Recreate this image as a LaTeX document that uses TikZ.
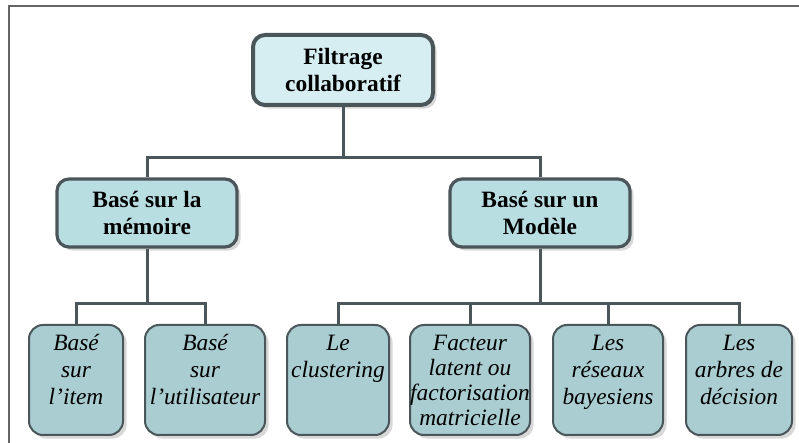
\documentclass[tikz,border=0pt]{standalone}
\usepackage{fontspec}
\setmainfont{Liberation Serif}
\usetikzlibrary{shadows}
\definecolor{topfill}{HTML}{D6EEF1}
\definecolor{midfill}{HTML}{B9DEE2}
\definecolor{leaffill}{HTML}{AACDD1}
\definecolor{edge}{HTML}{4A5659}
\tikzset{
    box/.style={draw=edge, rounded corners=6pt, align=center,
        drop shadow={shadow xshift=1.8pt, shadow yshift=-1.8pt, fill=black!30, opacity=0.5}},
    rootbox/.style={box, fill=topfill, line width=2pt, minimum width=90pt, minimum height=35pt,
        font=\fontsize{11.7}{13.5}\selectfont\bfseries},
    midbox/.style={box, fill=midfill, line width=1.6pt, minimum width=90pt, minimum height=34pt,
        font=\fontsize{11.7}{13.5}\selectfont\bfseries},
    leafbox/.style={box, fill=leaffill, line width=1pt, rounded corners=7pt, inner sep=0pt,
        anchor=north, font=\fontsize{11.7}{13.5}\selectfont\itshape},
    link/.style={draw=edge, line width=1.5pt}
}
% top-aligned text inside a leaf
\newcommand{\leaftext}[2]{\parbox[c][55pt][t]{#1}{\centering\vspace*{3.2pt}\strut #2}}
\begin{document}
\begin{tikzpicture}[x=0.5pt, y=-0.5pt]
    \useasboundingbox (0,0) rectangle (799,443);
    % frame
    \draw[gray!80!black, line width=0.8pt] (9,443) -- (9,6) -- (799,6);

    % levels
    \node[rootbox] (fc) at (343,70) {Filtrage\\collaboratif};
    \node[midbox] (mem) at (147,213) {Basé sur la\\mémoire};
    \node[midbox] (mod) at (540,213) {Basé sur un\\Modèle};

    \node[leafbox] (item) at (76,324) {\leaftext{47pt}{Basé\\sur\\l’item}};
    \node[leafbox] (user) at (205,324) {\leaftext{60pt}{Basé\\sur\\l’utilisateur}};
    \node[leafbox] (clus) at (338,324) {\leaftext{51pt}{Le\\clustering}};
    \node[leafbox] (fact) at (470,324) {\leaftext{60pt}{\fontsize{11.7}{12.6}\selectfont Facteur\\latent ou\\factorisation\\matricielle}};
    \node[leafbox] (bay) at (608,324) {\leaftext{55pt}{Les\\réseaux\\bayesiens}};
    \node[leafbox] (tree) at (739,324) {\leaftext{53pt}{Les\\arbres de\\décision}};

    % junctions
    \coordinate (j0) at (343,158);
    \coordinate (j1) at (147,304);
    \coordinate (j2) at (540,304);

    % connectors
    \draw[link] (fc.south) -- (j0);
    \draw[link] (j0) -| (mem.north);
    \draw[link] (j0) -| (mod.north);
    \draw[link] (mem.south) -- (j1);
    \foreach \leaf in {item, user} {
        \draw[link] (j1) -| (\leaf.north);
    }
    \draw[link] (mod.south) -- (j2);
    \foreach \leaf in {clus, fact, bay, tree} {
        \draw[link] (j2) -| (\leaf.north);
    }
\end{tikzpicture}
\end{document}
